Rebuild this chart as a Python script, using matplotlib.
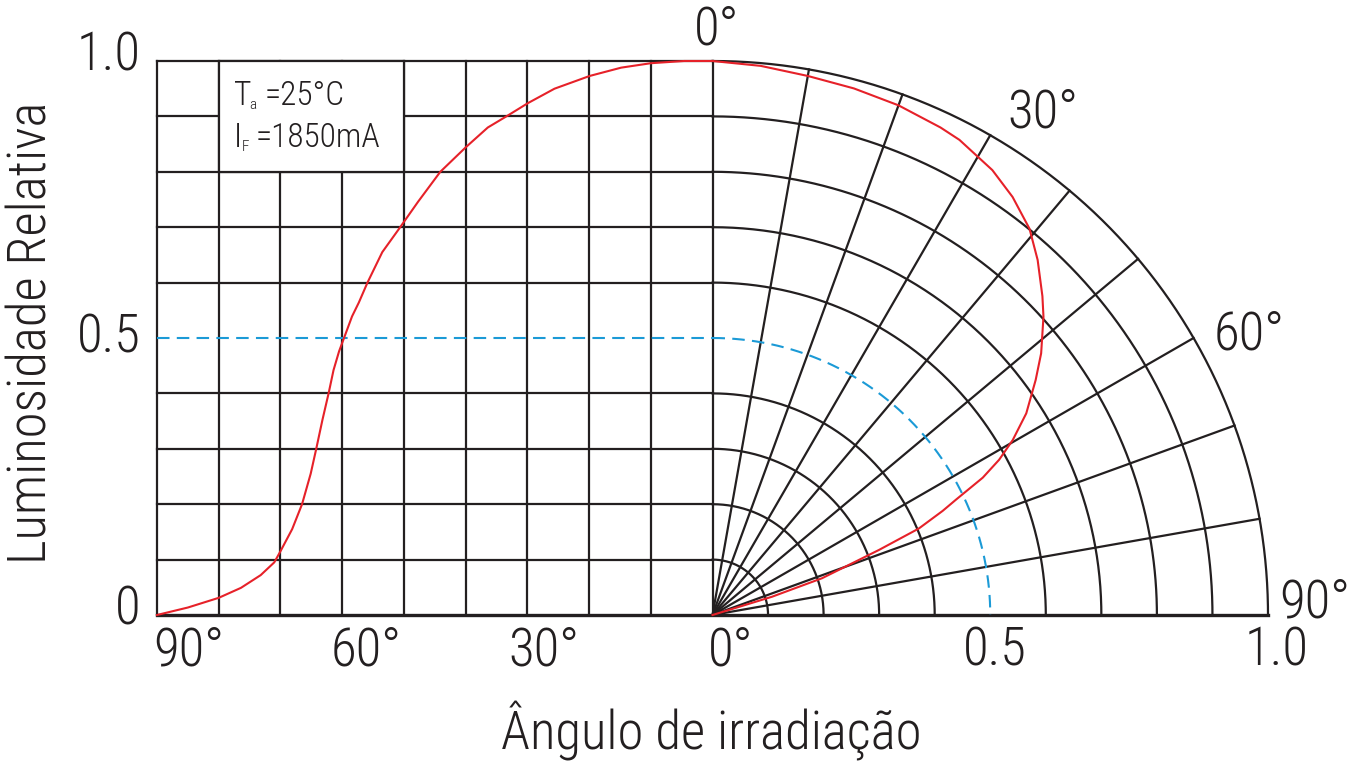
import numpy as np
import matplotlib
matplotlib.use('Agg')
import matplotlib.pyplot as plt
from matplotlib.patches import Rectangle

plt.rcParams['font.family'] = ['Roboto Condensed', 'IBM Plex Sans Condensed', 'DejaVu Sans']
plt.rcParams['font.weight'] = 'light'

# left half: irradiation angle (deg) vs relative luminosity
left_angle = [90, 85, 80, 76.4, 73.2, 71, 70, 68.1, 66.5, 65.1, 64.2, 63.2, 62.2, 61.4,
              60.5, 59.7, 58.4, 57.3, 55.9, 53.5, 50.6, 47.7, 44.1, 40, 36.4, 33.4,
              29.9, 25.6, 19.9, 14.8, 10, 4.6, 0]
left_value = [0, 0.0135, 0.031, 0.049, 0.072, 0.095, 0.115, 0.155, 0.2, 0.255, 0.3, 0.352,
              0.4, 0.442, 0.476, 0.5, 0.539, 0.564, 0.6, 0.655, 0.7, 0.746, 0.8, 0.844,
              0.88, 0.9, 0.924, 0.95, 0.973, 0.988, 0.996, 1.0, 1.0]

# right half: polar diagram (angle from axis, relative luminosity)
polar_angle = [0, 5, 10, 15, 20, 25, 27.4, 32.1, 35.6, 39.3, 42.4, 45.9, 47.9, 51.4, 53.9,
               57.2, 59.7, 61.5, 63.0, 64.6, 65.6, 67.2, 68.6, 71.4, 72.9, 73.5]
polar_value = [1.0, 0.995, 0.988, 0.984, 0.979, 0.971, 0.966, 0.948, 0.928, 0.901, 0.868,
               0.827, 0.803, 0.757, 0.72, 0.672, 0.626, 0.587, 0.546, 0.485, 0.455, 0.403,
               0.322, 0.208, 0.112, 0.0]

half_value = 0.5
x_tick_labels = ['90°', '60°', '30°', '0°', '0.5', '1.0']
y_tick_labels = ['0', '0.5', '1.0']
polar_labels = ['0°', '30°', '60°', '90°']

LC = '#231f20'
RED = '#e62129'
BLUE = '#1b9ad6'
LW = 1.6
FS = 38

fig = plt.figure(figsize=(13.66, 7.64), dpi=100)
ax = fig.add_axes([157/1366, 149/764, 1111/1366, 554/764])
ax.set_xlim(-1, 1)
ax.set_ylim(0, 1)
ax.axis('off')

# cartesian grid (left), the 0.5 line is the blue dashed one
for k in range(10):
    ax.plot([-k/9, -k/9], [0, 1], color=LC, lw=LW, clip_on=False, zorder=1)
for j in range(1, 11):
    if j == 5:
        continue
    ax.plot([-1, 0], [j/10, j/10], color=LC, lw=LW, clip_on=False, zorder=1)

# polar grid (right)
th = np.radians(np.linspace(0, 90, 300))
for j in range(1, 11):
    if j == 5:
        continue
    r = j/10
    ax.plot(r*np.sin(th), r*np.cos(th), color=LC, lw=LW, clip_on=False, zorder=1)
for d in range(10, 90, 10):
    t = np.radians(d)
    ax.plot([0, np.sin(t)], [0, np.cos(t)], color=LC, lw=LW, clip_on=False, zorder=1)
ax.plot([-1, 1], [0, 0], color=LC, lw=2.4, clip_on=False, zorder=1)

# 50% lines
ax.plot([-1, 0], [half_value, half_value], color=BLUE, lw=1.5, ls=(0, (6, 3.5)),
        clip_on=False, zorder=2)
ax.plot(half_value*np.sin(th), half_value*np.cos(th), color=BLUE, lw=1.5,
        ls=(0, (6, 3.5)), clip_on=False, zorder=2)

# curves
ax.plot(-np.array(left_angle)/90, left_value, color=RED, lw=1.5, clip_on=False, zorder=3)
pa = np.radians(polar_angle)
pv = np.array(polar_value)
ax.plot(pv*np.sin(pa), pv*np.cos(pa), color=RED, lw=1.5, clip_on=False, zorder=3)

# condition box
ax.add_patch(Rectangle((-8/9, 0.8), 3/9, 0.2, facecolor='white', edgecolor=LC, lw=LW,
                       zorder=4, clip_on=False))
ax.text(-0.862, 0.921, 'T', fontsize=24, color=LC, zorder=5)
ax.text(-0.834, 0.913, 'a', fontsize=11, color=LC, zorder=5)
ax.text(-0.806, 0.921, '=25°C', fontsize=24, color=LC, zorder=5)
ax.text(-0.862, 0.845, 'I', fontsize=24, color=LC, zorder=5)
ax.text(-0.848, 0.838, 'F', fontsize=11, color=LC, zorder=5)
ax.text(-0.822, 0.845, '=1850mA', fontsize=24, color=LC, zorder=5)

# tick labels
x_pos = [-1, -2/3, -1/3, 0, 0.5, 1.0]
x_off = [0.058, 0.044, 0.03, 0.032, 0.008, 0.016]
for p, o, s in zip(x_pos, x_off, x_tick_labels):
    ax.text(p + o, -0.065, s, fontsize=FS, color=LC, ha='center', va='center')
y_pos = [0.0, 0.5, 1.0]
y_off = [0.01, 0.0, 0.009]
for p, o, s in zip(y_pos, y_off, y_tick_labels):
    ax.text(-1.03, p + o, s, fontsize=FS, color=LC, ha='right', va='center')

# polar angle labels
polar_xy = [(0.007, 1.056), (0.595, 0.906), (0.966, 0.505), (1.085, 0.022)]
for (px, py), s in zip(polar_xy, polar_labels):
    ax.text(px, py, s, fontsize=FS, color=LC, ha='center', va='center')

fig.text(711/1366, 1 - 731/764, 'Ângulo de irradiação', fontsize=FS, color=LC,
         ha='center', va='center')
fig.text(32/1366, 1 - 333/764, 'Luminosidade Relativa', fontsize=FS, color=LC,
         ha='center', va='center', rotation=90)

fig.savefig('out.png', dpi=100)
